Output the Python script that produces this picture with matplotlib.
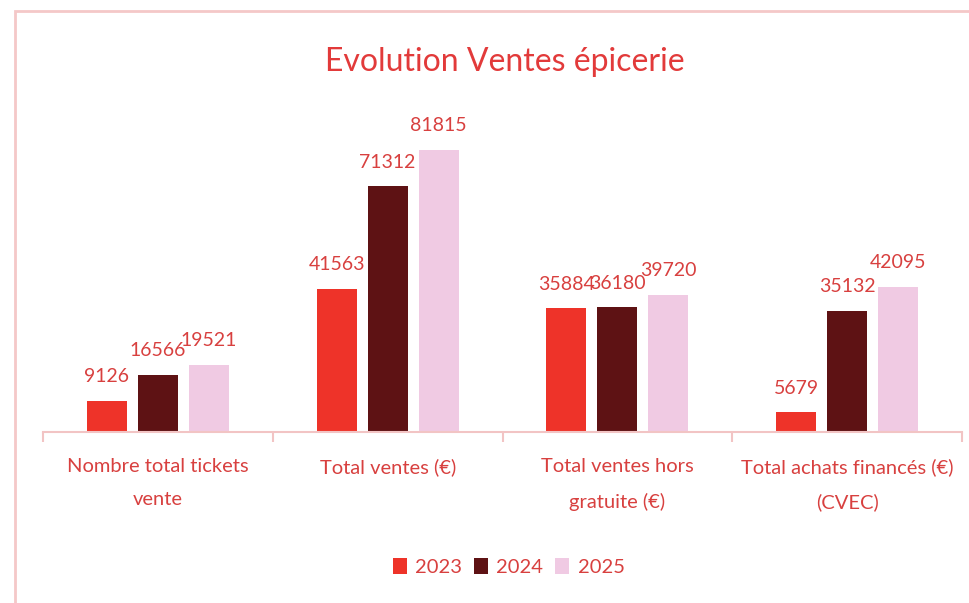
import numpy as np
import matplotlib.pyplot as plt
from matplotlib.patches import Rectangle

categories = ["Nombre total tickets\nvente", "Total ventes (€)",
              "Total ventes hors\ngratuite (€)", "Total achats financés (€)\n(CVEC)"]
years = ["2023", "2024", "2025"]
v2023 = [9126, 41563, 35884, 5679]
v2024 = [16566, 71312, 36180, 35132]
v2025 = [19521, 81815, 39720, 42095]

colors = ["#ee3329", "#5e1214", "#f0cae3"]
text_red = "#d8403f"
plt.rcParams['font.family'] = ['Lato', 'DejaVu Sans']

fig = plt.figure(figsize=(9.69, 6.03), dpi=100)
ax = fig.add_axes([43/969, 1 - 432/603, (962 - 43)/969, 310/603])

x = np.arange(len(categories))
w = 0.174
off = 0.222
for i, (vals, c, lab) in enumerate(zip([v2023, v2024, v2025], colors, years)):
    bars = ax.bar(x + (i - 1) * off, vals, w, color=c, label=lab)
    for b, v in zip(bars, vals):
        ax.text(b.get_x() + b.get_width() / 2, v + 4600, str(v), ha='center', va='bottom',
                fontsize=14, color=text_red)

ax.set_xlim(-0.5, 3.5)
ax.set_ylim(0, 90000)
ax.set_yticks([])
for s in ['top', 'right', 'left']:
    ax.spines[s].set_visible(False)
ax.spines['bottom'].set_color('#f2c4c4')
ax.spines['bottom'].set_linewidth(1.5)
ax.set_xticks(np.arange(-0.5, 4, 1), minor=False)
ax.set_xticklabels([])
ax.tick_params(axis='x', length=7, color='#f2c4c4', width=1.5)
for xi, cat in zip(x, categories):
    ax.text(xi, -0.085, cat, transform=ax.get_xaxis_transform(), ha='center', va='top',
            fontsize=14.5, color=text_red, linespacing=2.15)

fig.text(0.521, 0.897, "Evolution Ventes épicerie", ha='center', va='center',
         fontsize=23, color="#e23a3a")

fig.legend(loc='center', bbox_to_anchor=(0.525, 0.06), ncol=3, frameon=False,
           fontsize=14.5, labelcolor=text_red, handlelength=0.7, handleheight=0.9,
           columnspacing=0.6, handletextpad=0.4)

fig.patches.append(Rectangle((15/969, -0.05), 1.0, 1 - 11/603 + 0.05, transform=fig.transFigure,
                             fill=False, edgecolor='#f4c8c8', linewidth=2))

fig.savefig("out.png", dpi=100)
